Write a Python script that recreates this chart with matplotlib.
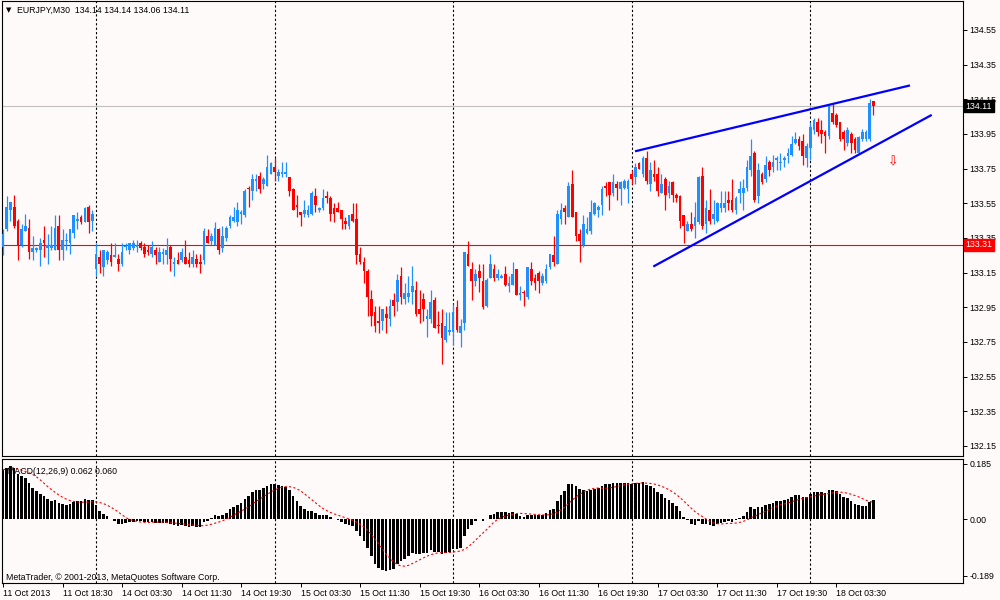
import numpy as np
import pandas as pd
import matplotlib
matplotlib.use("Agg")
import matplotlib.pyplot as plt
from matplotlib.transforms import blended_transform_factory

plt.rcParams["font.family"] = ["Liberation Sans", "DejaVu Sans"]

# EURJPY M30, 11 Oct 2013 10:30 .. 18 Oct 2013 08:30
opens = [
    133.30, 133.40, 133.51, 133.53, 133.45, 133.31, 133.39, 133.41, 133.27, 133.28,
    133.28, 133.34, 133.29, 133.29, 133.28, 133.42, 133.28, 133.33, 133.32, 133.38,
    133.45, 133.47, 133.44, 133.53, 133.45, 133.17, 133.24, 133.18, 133.22, 133.25,
    133.24, 133.23, 133.20, 133.30, 133.28, 133.29, 133.30, 133.32, 133.30, 133.28,
    133.26, 133.28, 133.21, 133.26, 133.25, 133.30, 133.20, 133.22, 133.22, 133.24,
    133.22, 133.20, 133.23, 133.21, 133.22, 133.36, 133.33, 133.31, 133.40, 133.29,
    133.35, 133.42, 133.45, 133.44, 133.49, 133.48, 133.64, 133.62, 133.68, 133.71,
    133.66, 133.65, 133.72, 133.76, 133.71, 133.72, 133.72, 133.70, 133.63, 133.54,
    133.50, 133.49, 133.48, 133.49, 133.59, 133.51, 133.52, 133.59, 133.58, 133.52,
    133.52, 133.51, 133.45, 133.42, 133.49, 133.46, 133.26, 133.21, 133.16, 133.00,
    132.92, 132.87, 132.87, 132.91, 132.88, 132.99, 132.98, 133.13, 133.00, 133.01,
    133.04, 133.05, 132.94, 133.00, 132.88, 132.88, 132.99, 132.85, 132.86, 132.76,
    132.81, 132.81, 132.95, 132.80, 132.86, 133.26, 133.17, 133.10, 133.16, 133.10,
    132.96, 133.12, 133.17, 133.12, 133.12, 133.14, 133.07, 133.08, 133.17, 133.02,
    133.04, 133.01, 133.17, 133.12, 133.15, 133.09, 133.10, 133.18, 133.25, 133.20,
    133.46, 133.52, 133.47, 133.66, 133.50, 133.37, 133.31, 133.38, 133.39, 133.49,
    133.51, 133.54, 133.65, 133.67, 133.61, 133.66, 133.63, 133.64, 133.63, 133.72,
    133.70, 133.78, 133.72, 133.81, 133.66, 133.72, 133.72, 133.61, 133.69, 133.61,
    133.67, 133.60, 133.59, 133.48, 133.39, 133.43, 133.42, 133.44, 133.71, 133.43,
    133.51, 133.46, 133.45, 133.52, 133.52, 133.57, 133.57, 133.51, 133.61, 133.61,
    133.64, 133.74, 133.84, 133.59, 133.72, 133.69, 133.79, 133.76, 133.80, 133.78,
    133.80, 133.82, 133.83, 133.90, 133.92, 133.91, 133.81, 133.87, 133.97, 134.02,
    133.97, 133.96, 133.94, 134.07, 134.06, 134.02, 133.96, 133.90, 133.95, 133.92,
    133.84, 133.92, 133.92, 133.92, 134.14,
]
highs = [
    133.40, 133.59, 133.56, 133.60, 133.46, 133.43, 133.49, 133.46, 133.36, 133.30,
    133.35, 133.42, 133.37, 133.42, 133.48, 133.48, 133.40, 133.38, 133.40, 133.48,
    133.50, 133.48, 133.53, 133.54, 133.51, 133.32, 133.28, 133.28, 133.28, 133.32,
    133.32, 133.26, 133.32, 133.32, 133.32, 133.34, 133.34, 133.33, 133.32, 133.31,
    133.33, 133.30, 133.30, 133.29, 133.35, 133.31, 133.24, 133.27, 133.29, 133.34,
    133.27, 133.28, 133.26, 133.26, 133.41, 133.40, 133.38, 133.44, 133.41, 133.42,
    133.42, 133.48, 133.53, 133.56, 133.51, 133.63, 133.65, 133.72, 133.72, 133.73,
    133.70, 133.83, 133.79, 133.81, 133.75, 133.79, 133.79, 133.70, 133.64, 133.60,
    133.50, 133.57, 133.54, 133.62, 133.64, 133.53, 133.63, 133.62, 133.59, 133.55,
    133.56, 133.51, 133.47, 133.48, 133.55, 133.55, 133.30, 133.24, 133.17, 133.05,
    132.96, 132.96, 132.94, 132.96, 133.00, 133.03, 133.14, 133.18, 133.09, 133.13,
    133.19, 133.10, 133.05, 133.03, 132.94, 133.05, 133.01, 132.93, 132.94, 132.92,
    132.92, 132.97, 132.99, 132.88, 133.27, 133.33, 133.21, 133.17, 133.20, 133.20,
    133.12, 133.26, 133.20, 133.17, 133.14, 133.19, 133.13, 133.21, 133.17, 133.07,
    133.05, 133.18, 133.21, 133.14, 133.16, 133.15, 133.20, 133.26, 133.36, 133.51,
    133.55, 133.54, 133.67, 133.74, 133.50, 133.40, 133.48, 133.47, 133.57, 133.56,
    133.54, 133.65, 133.67, 133.67, 133.72, 133.68, 133.68, 133.69, 133.69, 133.74,
    133.78, 133.79, 133.82, 133.85, 133.79, 133.80, 133.76, 133.72, 133.70, 133.68,
    133.68, 133.61, 133.60, 133.48, 133.45, 133.50, 133.56, 133.71, 133.76, 133.57,
    133.63, 133.57, 133.56, 133.62, 133.62, 133.62, 133.69, 133.59, 133.68, 133.69,
    133.80, 133.92, 133.85, 133.78, 133.73, 133.82, 133.80, 133.83, 133.82, 133.84,
    133.82, 133.87, 133.94, 133.96, 133.94, 133.95, 133.90, 134.02, 134.04, 134.04,
    134.03, 133.97, 134.12, 134.12, 134.07, 134.02, 133.97, 133.99, 133.96, 133.93,
    133.94, 133.98, 133.97, 134.15, 134.14,
]
lows = [
    133.25, 133.39, 133.45, 133.41, 133.22, 133.30, 133.39, 133.23, 133.22, 133.27,
    133.19, 133.24, 133.20, 133.28, 133.28, 133.22, 133.22, 133.28, 133.26, 133.35,
    133.40, 133.43, 133.44, 133.38, 133.39, 133.13, 133.15, 133.13, 133.20, 133.19,
    133.24, 133.16, 133.19, 133.28, 133.26, 133.28, 133.27, 133.28, 133.24, 133.25,
    133.24, 133.20, 133.21, 133.20, 133.20, 133.16, 133.13, 133.20, 133.21, 133.20,
    133.18, 133.18, 133.18, 133.15, 133.20, 133.32, 133.31, 133.31, 133.26, 133.27,
    133.33, 133.41, 133.44, 133.42, 133.43, 133.47, 133.53, 133.57, 133.62, 133.61,
    133.63, 133.65, 133.72, 133.68, 133.68, 133.70, 133.70, 133.59, 133.51, 133.47,
    133.42, 133.47, 133.47, 133.48, 133.50, 133.50, 133.51, 133.55, 133.45, 133.44,
    133.50, 133.40, 133.40, 133.40, 133.44, 133.20, 133.20, 133.09, 132.90, 132.84,
    132.81, 132.80, 132.82, 132.80, 132.84, 132.90, 132.93, 132.97, 132.97, 132.98,
    132.97, 132.90, 132.86, 132.87, 132.78, 132.86, 132.83, 132.80, 132.62, 132.75,
    132.79, 132.73, 132.81, 132.72, 132.82, 133.19, 132.99, 133.07, 133.04, 132.94,
    132.95, 133.12, 133.10, 133.11, 133.12, 133.07, 133.04, 133.08, 133.02, 132.99,
    132.96, 133.00, 133.08, 133.05, 133.03, 133.08, 133.09, 133.17, 133.19, 133.20,
    133.43, 133.43, 133.47, 133.47, 133.33, 133.21, 133.30, 133.37, 133.37, 133.48,
    133.47, 133.48, 133.59, 133.51, 133.59, 133.57, 133.54, 133.63, 133.55, 133.66,
    133.66, 133.75, 133.70, 133.66, 133.62, 133.68, 133.59, 133.61, 133.51, 133.58,
    133.56, 133.56, 133.41, 133.32, 133.39, 133.39, 133.35, 133.43, 133.40, 133.38,
    133.43, 133.43, 133.44, 133.50, 133.50, 133.51, 133.50, 133.49, 133.55, 133.51,
    133.62, 133.71, 133.56, 133.55, 133.66, 133.67, 133.71, 133.73, 133.74, 133.74,
    133.76, 133.78, 133.82, 133.89, 133.86, 133.77, 133.76, 133.80, 133.95, 133.94,
    133.90, 133.84, 133.92, 134.01, 133.99, 133.91, 133.86, 133.88, 133.84, 133.84,
    133.84, 133.91, 133.91, 133.91, 134.06,
]
closes = [
    133.37, 133.53, 133.56, 133.42, 133.31, 133.40, 133.42, 133.27, 133.29, 133.29,
    133.32, 133.32, 133.31, 133.31, 133.41, 133.28, 133.34, 133.34, 133.40, 133.48,
    133.46, 133.44, 133.52, 133.44, 133.49, 133.26, 133.20, 133.28, 133.27, 133.21,
    133.25, 133.20, 133.27, 133.30, 133.32, 133.32, 133.31, 133.29, 133.26, 133.27,
    133.30, 133.25, 133.27, 133.27, 133.28, 133.23, 133.21, 133.20, 133.27, 133.20,
    133.20, 133.24, 133.20, 133.20, 133.39, 133.32, 133.36, 133.41, 133.28, 133.36,
    133.41, 133.47, 133.47, 133.51, 133.50, 133.62, 133.63, 133.69, 133.69, 133.63,
    133.69, 133.76, 133.78, 133.73, 133.73, 133.73, 133.73, 133.62, 133.51, 133.53,
    133.48, 133.51, 133.51, 133.61, 133.54, 133.52, 133.58, 133.58, 133.49, 133.49,
    133.50, 133.46, 133.43, 133.48, 133.45, 133.25, 133.21, 133.16, 133.01, 132.90,
    132.84, 132.86, 132.94, 132.89, 132.96, 132.96, 133.11, 133.01, 133.03, 133.03,
    133.07, 132.91, 132.91, 132.94, 132.90, 132.98, 132.83, 132.84, 132.77, 132.84,
    132.82, 132.92, 132.82, 132.84, 133.27, 133.19, 133.10, 133.14, 133.12, 132.95,
    133.11, 133.20, 133.12, 133.14, 133.13, 133.08, 133.09, 133.14, 133.02, 133.03,
    133.03, 133.18, 133.10, 133.09, 133.10, 133.13, 133.17, 133.26, 133.21, 133.49,
    133.51, 133.50, 133.65, 133.47, 133.36, 133.33, 133.43, 133.40, 133.50, 133.55,
    133.53, 133.63, 133.64, 133.60, 133.67, 133.64, 133.67, 133.68, 133.68, 133.69,
    133.76, 133.75, 133.81, 133.68, 133.74, 133.70, 133.62, 133.66, 133.60, 133.65,
    133.60, 133.58, 133.45, 133.42, 133.43, 133.40, 133.47, 133.70, 133.42, 133.52,
    133.45, 133.49, 133.55, 133.55, 133.55, 133.55, 133.51, 133.58, 133.63, 133.64,
    133.76, 133.82, 133.57, 133.74, 133.67, 133.77, 133.74, 133.79, 133.81, 133.79,
    133.81, 133.84, 133.89, 133.92, 133.88, 133.82, 133.88, 133.99, 134.03, 133.96,
    133.95, 133.94, 134.11, 134.02, 134.00, 133.92, 133.92, 133.97, 133.90, 133.86,
    133.93, 133.96, 133.96, 134.13, 134.11,
]

# trading sessions shown (weekend gap between 11 and 14 Oct)
sessions = [("2013-10-11 10:30", "2013-10-11 22:30"),
            ("2013-10-14 00:00", "2013-10-18 08:30")]

price_ticks = [132.15, 132.35, 132.55, 132.75, 132.95, 133.15, 133.35,
               133.55, 133.75, 133.95, 134.15, 134.35, 134.55]
macd_ticks = [0.185, 0.0, -0.189]
hline_level = 133.31
bid_level = 134.11

# hand-drawn trend lines: (bar, price) anchors
upper_trend = [(169.9, 133.85), (243.8, 134.23)]
lower_trend = [(174.8, 133.185), (249.65, 134.06)]
arrow_at = (239.2, 133.79)

# EMA state just before the first visible bar (estimated so MACD starts as drawn)
ema_fast_start = 133.27
ema_slow_start = 133.10

header = "EURJPY,M30  134.14 134.14 134.06 134.11"
macd_label = "MACD(12,26,9) 0.062 0.060"
copyright_text = "MetaTrader, \u00a9 2001-2013, MetaQuotes Software Corp."

BG = "#fffafa"
BULL = "#1e90ff"
BEAR = "#ff0000"
FS = 6.3


def ema(values, period, start):
    k = 2.0 / (period + 1)
    out, prev = [], start
    for v in values:
        prev += k * (v - prev)
        out.append(prev)
    return np.array(out)


times = pd.date_range(*sessions[0], freq="30min").append(
    pd.date_range(*sessions[1], freq="30min"))
x = np.arange(len(closes))
o, h, l, c = (np.array(a) for a in (opens, highs, lows, closes))

macd = ema(closes, 12, ema_fast_start) - ema(closes, 26, ema_slow_start)
signal = pd.Series(macd).rolling(9, min_periods=1).mean().values

day_breaks = [i for i in range(1, len(times)) if times[i].date() != times[i - 1].date()]
label_bars = list(range(0, len(times), 16))
labels = []
for i in label_bars:
    t = times[i]
    labels.append(f"{t.day} {t:%b %Y}" if i == 0 else f"{t.day} {t:%b %H:%M}")

fig = plt.figure(figsize=(10, 6), dpi=100, facecolor=BG)
ax = fig.add_axes([0.002, 0.24, 0.961, 0.7583], facecolor=BG)
axm = fig.add_axes([0.002, 0.02833, 0.961, 0.2067], facecolor=BG)

# price panel
up = c >= o
colors = np.where(up, BULL, BEAR)
ax.vlines(x, l, h, colors=colors, lw=0.9, zorder=3)
body = np.maximum(np.abs(c - o), 0.006)
ax.bar(x, body, bottom=np.minimum(o, c), width=0.72, color=colors, linewidth=0, zorder=3)

ax.axhline(hline_level, color="#ff0000", lw=0.8, zorder=2)
ax.axhline(bid_level, color="#c0c0c0", lw=0.8, zorder=2)
for line in (upper_trend, lower_trend):
    ax.plot([p[0] for p in line], [p[1] for p in line], color="#0000ff", lw=1.6,
            solid_capstyle="butt", zorder=4)
ax.text(arrow_at[0], arrow_at[1], "\u21e9", color="#ff0000", fontsize=9,
        ha="center", va="center", family=["DejaVu Sans"], zorder=4)

ax.set_xlim(-0.27, 258.06)
ax.set_ylim(132.092, 134.717)
ax.yaxis.tick_right()
ax.set_yticks(price_ticks)
ax.set_yticklabels([f"{v:.2f}" for v in price_ticks])
ax.tick_params(axis="y", direction="out", length=3, width=0.7, pad=1.5, labelsize=FS)
ax.tick_params(axis="x", bottom=False, labelbottom=False)

tr = blended_transform_factory(ax.transAxes, ax.transData)
ax.text(1.0025, bid_level, f"{bid_level:.2f}", transform=tr, ha="left", va="center",
        color="white", fontsize=FS, clip_on=False, zorder=6,
        bbox=dict(boxstyle="square,pad=0.2", facecolor="black", edgecolor="black"))
ax.text(1.0025, hline_level, f"{hline_level:.2f}", transform=tr, ha="left", va="center",
        color="white", fontsize=FS, clip_on=False, zorder=6,
        bbox=dict(boxstyle="square,pad=0.2", facecolor="#ff0000", edgecolor="#ff0000"))

# MACD panel
axm.bar(x, macd, width=0.7, color="black", linewidth=0, zorder=3)
axm.plot(x, signal, color="#ff0000", lw=0.8, ls=(0, (2, 2)), zorder=4)
axm.set_xlim(-0.27, 258.06)
axm.set_ylim(-0.2124, 0.2017)
axm.yaxis.tick_right()
axm.set_yticks(macd_ticks)
axm.set_yticklabels(["0.185", "0.00", "-0.189"])
axm.tick_params(axis="y", direction="out", length=3, width=0.7, pad=1.5, labelsize=FS)
axm.set_xticks(label_bars)
axm.set_xticklabels(labels, ha="left")
axm.tick_params(axis="x", direction="out", length=3, width=0.7, pad=1.5, labelsize=FS)

for a in (ax, axm):
    for b in day_breaks:
        a.axvline(b, color="black", lw=0.8, ls=(0, (2, 2)), zorder=1)
    for s in a.spines.values():
        s.set_color("black")
        s.set_linewidth(0.8)

axm.text(0.005, 0.9, macd_label, transform=axm.transAxes, fontsize=FS,
         ha="left", va="center", zorder=6)
axm.text(0.004, 0.045, copyright_text, transform=axm.transAxes, fontsize=FS,
         ha="left", va="center", zorder=6)

fig.text(0.0055, 1 - 10 / 600, "\u25bc", fontsize=5, ha="left", va="center",
         family=["DejaVu Sans"])
fig.text(0.017, 1 - 10 / 600, header, fontsize=FS, ha="left", va="center")

fig.savefig("out.png", dpi=100, facecolor=BG)
